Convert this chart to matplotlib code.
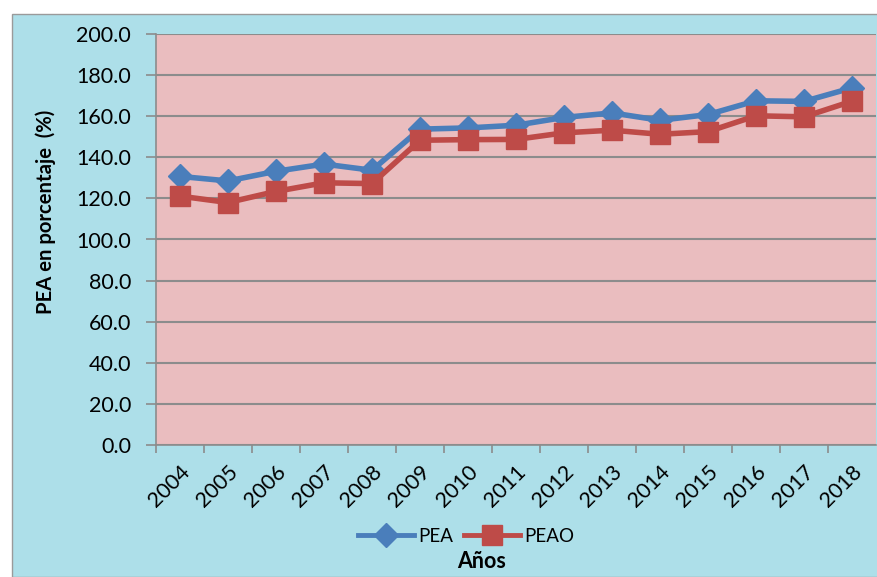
import matplotlib
matplotlib.use("Agg")
import matplotlib.pyplot as plt
from matplotlib.patches import Rectangle
from matplotlib.lines import Line2D

years = ["2004", "2005", "2006", "2007", "2008", "2009", "2010", "2011",
         "2012", "2013", "2014", "2015", "2016", "2017", "2018"]
pea = [130.7, 128.5, 133.2, 136.7, 133.7, 153.7, 154.3, 155.6,
       159.4, 161.6, 158.0, 160.8, 167.5, 167.2, 173.8]
peao = [121.1, 118.0, 123.4, 127.6, 127.2, 148.3, 148.6, 148.7,
        151.9, 153.2, 151.2, 152.5, 160.2, 159.7, 167.3]
yticks = [0, 20, 40, 60, 80, 100, 120, 140, 160, 180, 200]

plt.rcParams['font.family'] = ['Lato', 'DejaVu Sans']
FS = 15.5

W, H = 878, 577
fig = plt.figure(figsize=(W / 100, H / 100), dpi=100, facecolor='white')
# chart area background (light cyan)
bg = Rectangle((12 / W, 0), 1 - 12 / W, 1 - 14 / H,
               transform=fig.transFigure, facecolor='#addfe9',
               edgecolor='#9a9a9a', linewidth=1.0, zorder=-5)
fig.add_artist(bg)

ax = fig.add_axes([156 / W, 1 - 445 / H, (876 - 156) / W, (445 - 34) / H])
ax.set_zorder(1)
ax.set_facecolor('#eabdbf')

BLUE = '#4a7ebb'
RED = '#be4b48'
x = list(range(len(years)))
ax.plot(x, pea, color=BLUE, lw=4, marker='D', ms=12.5,
        markeredgecolor=BLUE, label='PEA', zorder=3)
ax.plot(x, peao, color=RED, lw=4, marker='s', ms=14.5,
        markeredgecolor=RED, label='PEAO', zorder=3)

ax.set_xlim(-0.5, len(years) - 0.5)
ax.set_ylim(0, 200)
ax.set_yticks(yticks)
ax.set_yticklabels([f"{v:.1f}" for v in yticks], fontsize=FS)
ax.set_xticks(x)
ax.set_xticklabels(years, rotation=45, ha='right', rotation_mode='anchor',
                   fontsize=FS)
ax.tick_params(axis='x', length=0, pad=12)
ax.set_xticks([i + 0.5 for i in range(-1, len(years) - 1)], minor=True)
ax.tick_params(axis='x', which='minor', length=6, color='#8c8c8c', width=1.2)
ax.tick_params(axis='y', length=7, color='#8c8c8c', width=1.2, pad=11)

ax.grid(axis='y', color='#8c8c8c', lw=1.5, zorder=1)
ax.set_axisbelow(True)
for s in ['top', 'right']:
    ax.spines[s].set_visible(False)
for s in ['left', 'bottom']:
    ax.spines[s].set_color('#8c8c8c')
    ax.spines[s].set_linewidth(1.2)

ax.set_ylabel("PEA en porcentaje  (%)", fontsize=14.6, fontweight='bold')
ax.yaxis.set_label_coords(-(156 - 56) / 720, (445 - 212) / 411)

handles = [Line2D([], [], color=BLUE, lw=3.5, marker='D', ms=12),
           Line2D([], [], color=RED, lw=3.5, marker='s', ms=14)]
fig.legend(handles, ['PEA', 'PEAO'], loc='center', ncol=2, frameon=False,
           bbox_to_anchor=(466 / W, 1 - 536 / H), fontsize=13.5,
           handlelength=3.0, columnspacing=0.6, handletextpad=0.2)
fig.text(482 / W, 1 - 561 / H, "Años", ha='center', va='center',
         fontsize=FS, fontweight='bold')

fig.savefig("out.png", dpi=100, facecolor=fig.get_facecolor())
